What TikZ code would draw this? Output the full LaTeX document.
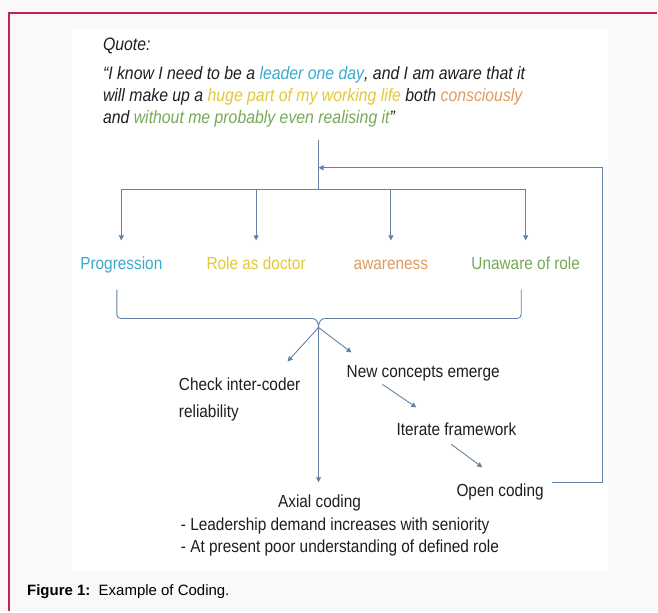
\documentclass[tikz,border=0pt]{standalone}
\usepackage{fontspec}
\setmainfont{Liberation Sans}
\newfontfamily\narrowfont[FakeStretch=0.88]{Liberation Sans}
\usetikzlibrary{arrows.meta}
\definecolor{framered}{RGB}{192,36,84}
\definecolor{pagebg}{RGB}{251,248,249}
\definecolor{linkblue}{RGB}{100,130,166}
\definecolor{codeblue}{RGB}{60,170,200}
\definecolor{codeyellow}{RGB}{226,200,60}
\definecolor{codeorange}{RGB}{222,156,96}
\definecolor{codegreen}{RGB}{118,170,86}
\definecolor{inktext}{RGB}{30,30,30}

\begin{document}
\begin{tikzpicture}[x=1pt, y=-1pt,
  txt/.style={font=\narrowfont\fontsize{17.5}{22}\selectfont, text=inktext, inner sep=0pt},
  code/.style={font=\narrowfont\fontsize{17.5}{22}\selectfont, inner sep=0pt,
    text height=13pt, text depth=4pt},
  link/.style={draw=linkblue, line width=0.9pt},
  arr/.style={link, -{Triangle[width=5pt,length=5pt]}},
  level distance=75pt, sibling distance=135pt,
  edge from parent/.style={arr},
  edge from parent path={(\tikzparentnode.center) -| ([yshift=15.5pt]\tikzchildnode.north)}]
  % page and panel
  \fill[pagebg] (0,0) rectangle (658,612);
  \fill[white] (72,29) rectangle (609,572);
  \draw[framered, line width=2pt] (9,612) -- (9,13) -- (658,13);

  % the quote (base = last line)
  \node[txt, anchor=base west, font=\narrowfont\itshape\fontsize{18}{22}\selectfont] (qhead) at (103,51) {Quote:};
  \node[txt, anchor=base west, align=left, font=\narrowfont\itshape\fontsize{18}{22}\selectfont] (quote) at (103,124)
    {“I know I need to be a {\color{codeblue}leader one day}, and I am aware that it\\
     will make up a {\color{codeyellow}huge part of my working life} both {\color{codeorange}consciously}\\
     and {\color{codegreen}without me probably even realising it}”};
  \coordinate (qfoot) at (319,140);
  \coordinate (join) at (319,168);

  % the four codes
  \node[inner sep=0pt] (fork) at (324,190) {}
    child { node[code, text=codeblue] (prog) {Progression} }
    child { node[code, text=codeyellow] (role) {Role as doctor} }
    child { node[code, text=codeorange] (aware) {awareness} }
    child { node[code, text=codegreen] (unaware) {Unaware of role} };
  \draw[link] (qfoot) -- (qfoot |- fork);

  % brace under the codes
  \coordinate (bl) at (117,290);
  \coordinate (br) at (522,290);
  \coordinate (tip) at (319,328);
  \draw[link] (bl) -- (117,315) to[out=-90,in=180] (121,319) -- (313,319)
    to[out=0,in=90] (tip) to[out=90,in=180] (325,319) -- (518,319)
    to[out=0,in=-90] (522,315) -- (br);

  % what follows
  \node[txt, anchor=base west, align=left, font=\narrowfont\fontsize{17.5}{27}\selectfont] (check) at (179,418)
    {Check inter-coder\\reliability};
  \node[txt, anchor=base west] (new) at (347,378) {New concepts emerge};
  \node[txt, anchor=base west] (iter) at (397,436) {Iterate framework};
  \node[txt, anchor=base west] (open) at (457,497) {Open coding};
  \node[txt, anchor=base] (axial) at (320,508) {Axial coding};
  \node[txt, anchor=base west, align=left] (themes) at (181,553)
    {- Leadership demand increases with seniority\\
     - At present poor understanding of defined role};

  \coordinate (chkin) at (288,362);
  \coordinate (newin) at (352,353);
  \coordinate (axin) at (319,483);
  \coordinate (newout) at (383,385);
  \coordinate (iterin) at (417,408);
  \coordinate (iterout) at (452,445);
  \coordinate (openin) at (483,468);
  \coordinate (loopa) at (553,483);
  \coordinate (loopb) at (603,168);

  \draw[arr] (tip) -- (chkin);
  \draw[arr] (tip) -- (newin);
  \draw[arr] (tip) -- (axin);
  \draw[arr] (newout) -- (iterin);
  \draw[arr] (iterout) -- (openin);
  \draw[arr] (loopa) -| (loopb) -- (join);

  % caption
  \node[anchor=base west, inner sep=0pt, font=\fontsize{15}{18}\selectfont] (cap) at (27,596)
    {\textbf{Figure 1:}\ \ Example of Coding.};
\end{tikzpicture}
\end{document}
